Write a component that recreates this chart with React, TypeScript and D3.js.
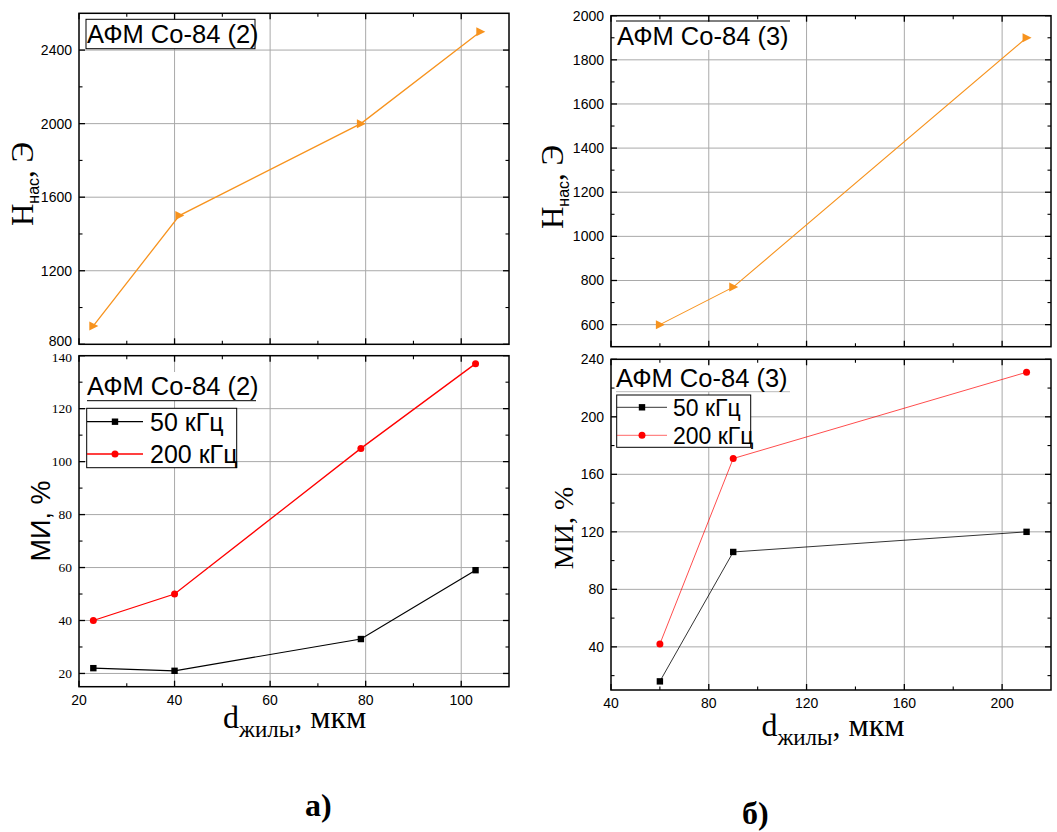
import React from "react";
import * as d3 from "d3";

const SANS = "'Liberation Sans', Arial, sans-serif";
const SERIF = "'Liberation Serif', 'Times New Roman', serif";

// ---- data: panel a) ----
const aH_x = [23, 41, 79, 104];
const aH_y = [900, 1500, 2000, 2500];
const aMI_x = [23, 40, 79, 103];
const aMI50 = [22, 21, 33, 59];
const aMI200 = [40, 50, 105, 137];

// ---- data: panel б) ----
const bX = [60, 90, 210];
const bH_y = [600, 770, 1900];
const bMI50 = [16, 106, 120];
const bMI200 = [42, 171, 231];

// ---- ticks ----
const aXMajor = [20, 40, 60, 80, 100];
const aXMinor = [30, 50, 70, 90, 110];
const aHMajor = [800, 1200, 1600, 2000, 2400];
const aHMinor = [1000, 1400, 1800, 2200, 2600];
const aMIMajor = [20, 40, 60, 80, 100, 120, 140];
const aMIMinor = [30, 50, 70, 90, 110, 130];

const bXMajor = [40, 80, 120, 160, 200];
const bXMinor = [60, 100, 140, 180, 220];
const bHMajor = [600, 800, 1000, 1200, 1400, 1600, 1800, 2000];
const bHMinor = [500, 700, 900, 1100, 1300, 1500, 1700, 1900];
const bMIMajor = [40, 80, 120, 160, 200, 240];
const bMIMinor = [20, 60, 100, 140, 180, 220];

const legendLabels = ["50 кГц", "200 кГц"];
const titleA = "АФМ Co-84 (2)";
const titleB = "АФМ Co-84 (3)";

const ORANGE = "#f7931e";
const RED = "#ff0000";
const BLACK = "#000000";
const GRID = "#a9a9a9";

type PanelProps = {
  left: number; top: number; width: number; height: number;
  xDomain: [number, number]; yDomain: [number, number];
  xMajor: number[]; xMinor: number[]; yMajor: number[]; yMinor: number[];
  xLabels: boolean; yLabelFont: string; yLabelSize: number;
  xGrid: number[]; yGrid: number[];
  yLabelShift?: (v: number) => number;
  xLabelBaseline?: number;
  render: (x: d3.ScaleLinear<number, number>, y: d3.ScaleLinear<number, number>) => React.ReactNode;
  overlay?: React.ReactNode;
};

function Panel(p: PanelProps) {
  const x = d3.scaleLinear().domain(p.xDomain).range([p.left, p.left + p.width]);
  const y = d3.scaleLinear().domain(p.yDomain).range([p.top + p.height, p.top]);
  const L = p.left, R = p.left + p.width, T = p.top, B = p.top + p.height;
  const maj = 6, min = 3.5;
  return (
    <g>
      {p.xGrid.map((v) => (
        <line key={"gx" + v} x1={x(v)} x2={x(v)} y1={T} y2={B} stroke={GRID} strokeWidth={1} />
      ))}
      {p.yGrid.map((v) => (
        <line key={"gy" + v} x1={L} x2={R} y1={y(v)} y2={y(v)} stroke={GRID} strokeWidth={1} />
      ))}
      {p.overlay}
      {p.render(x, y)}
      <rect x={L} y={T} width={p.width} height={p.height} fill="none" stroke="#000" strokeWidth={1.5} />
      {p.xMajor.map((v) => (
        <g key={"xm" + v}>
          <line x1={x(v)} x2={x(v)} y1={B} y2={B - maj} stroke="#000" strokeWidth={1.3} />
          <line x1={x(v)} x2={x(v)} y1={T} y2={T + maj} stroke="#000" strokeWidth={1.3} />
        </g>
      ))}
      {p.xMinor.filter((v) => v < p.xDomain[1]).map((v) => (
        <g key={"xn" + v}>
          <line x1={x(v)} x2={x(v)} y1={B} y2={B - min} stroke="#000" strokeWidth={1.1} />
          <line x1={x(v)} x2={x(v)} y1={T} y2={T + min} stroke="#000" strokeWidth={1.1} />
        </g>
      ))}
      {p.yMajor.map((v) => (
        <g key={"ym" + v}>
          <line x1={L} x2={L + maj} y1={y(v)} y2={y(v)} stroke="#000" strokeWidth={1.3} />
          <line x1={R} x2={R - maj} y1={y(v)} y2={y(v)} stroke="#000" strokeWidth={1.3} />
        </g>
      ))}
      {p.yMinor.filter((v) => v > p.yDomain[0] && v < p.yDomain[1]).map((v) => (
        <g key={"yn" + v}>
          <line x1={L} x2={L + min} y1={y(v)} y2={y(v)} stroke="#000" strokeWidth={1.1} />
          <line x1={R} x2={R - min} y1={y(v)} y2={y(v)} stroke="#000" strokeWidth={1.1} />
        </g>
      ))}
      {p.yMajor.map((v) => (
        <text key={"yl" + v} x={L - 7} y={y(v) + (p.yLabelShift ? p.yLabelShift(v) : 0)} dy="0.35em" textAnchor="end"
          fontFamily={p.yLabelFont} fontSize={p.yLabelSize} fill="#000">{v}</text>
      ))}
      {p.xLabels && p.xMajor.map((v) => (
        <text key={"xl" + v} x={x(v)} y={p.xLabelBaseline ?? B + 18} textAnchor="middle"
          fontFamily={SANS} fontSize={14} fill="#000">{v}</text>
      ))}
    </g>
  );
}

function Marker({ cx, cy, color, kind }: { cx: number; cy: number; color: string; kind: "tri" | "sq" | "circ" }) {
  if (kind === "tri")
    return <path d={`M${cx - 4},${cy - 4.5}L${cx + 5},${cy}L${cx - 4},${cy + 4.5}Z`} fill={color} />;
  if (kind === "sq") return <rect x={cx - 3.2} y={cy - 3.2} width={6.4} height={6.4} fill={color} />;
  return <circle cx={cx} cy={cy} r={3.5} fill={color} />;
}

function Series({ xs, ys, x, y, color, width, marker }: {
  xs: number[]; ys: number[]; x: d3.ScaleLinear<number, number>; y: d3.ScaleLinear<number, number>;
  color: string; width: number; marker: "tri" | "sq" | "circ";
}) {
  const pts = xs.map((v, i) => [x(v), y(ys[i])] as [number, number]);
  const line = d3.line()(pts) || "";
  return (
    <g>
      <path d={line} fill="none" stroke={color} strokeWidth={width} />
      {pts.map(([px, py], i) => (
        <Marker key={i} cx={px} cy={py} color={color} kind={marker} />
      ))}
    </g>
  );
}

function HLabel({ x, cy }: { x: number; cy: number }) {
  return (
    <text transform={`translate(${x},${cy}) rotate(-90)`} textAnchor="middle" fontFamily={SERIF} fontSize={31} fill="#000">
      H<tspan fontFamily={SANS} fontSize={16} dy={6}>нас</tspan><tspan dy={-6}>, Э</tspan>
    </text>
  );
}

function DLabel({ cx, y }: { cx: number; y: number }) {
  return (
    <text x={cx} y={y} textAnchor="middle" fontFamily={SERIF} fontSize={32} fill="#000">
      d<tspan fontSize={23} dy={9}>жилы</tspan><tspan dy={-9}>, мкм</tspan>
    </text>
  );
}

export default function App() {
  return (
    <svg width={1057} height={832} style={{ position: "absolute", left: 0, top: 0, background: "#fff" }}>
      <rect x={0} y={0} width={1057} height={832} fill="#fff" />

      {/* a) top */}
      <Panel left={79} top={13.3} width={430} height={331}
        xDomain={[20, 110]} yDomain={[800, 2600]}
        xMajor={aXMajor} xMinor={aXMinor} yMajor={aHMajor} yMinor={aHMinor}
        xLabels={false} yLabelFont={SANS} yLabelSize={14}
        yLabelShift={(v) => (v === 800 ? -3 : 0)}
        xGrid={[40, 60, 80, 100]} yGrid={[1200, 1600, 2000, 2400]}
        overlay={
          <g>
            <rect x={86} y={19.3} width={169} height={29.4} fill="#fff" stroke="#000" strokeWidth={1} />
            <text x={87} y={43} fontFamily={SANS} fontSize={25.5}>{titleA}</text>
          </g>
        }
        render={(x, y) => <Series xs={aH_x} ys={aH_y} x={x} y={y} color={ORANGE} width={1.3} marker="tri" />}
      />
      <HLabel x={33} cy={184} />

      {/* a) bottom */}
      <Panel left={79} top={355.7} width={430} height={331}
        xDomain={[20, 110]} yDomain={[15, 140]}
        xMajor={aXMajor} xMinor={aXMinor} yMajor={aMIMajor} yMinor={aMIMinor}
        xLabels={true} xLabelBaseline={705} yLabelFont={SERIF} yLabelSize={13.5}
        yLabelShift={(v) => (v === 140 ? 1.5 : 0)}
        xGrid={[40, 60, 80, 100]} yGrid={[20, 40, 60, 80, 100, 120]}
        overlay={
          <g>
            <rect x={86} y={372} width={170} height={29} fill="#fff" />
            <line x1={87} x2={256} y1={400.7} y2={400.7} stroke="#000" strokeWidth={1} />
            <text x={87} y={395} fontFamily={SANS} fontSize={25.5}>{titleA}</text>
            <rect x={86.7} y={408.3} width={150} height={59.4} fill="#fff" stroke="#000" strokeWidth={1} />
            <line x1={87} x2={143} y1={421.7} y2={421.7} stroke={BLACK} strokeWidth={1.3} />
            <Marker cx={115} cy={421.7} color={BLACK} kind="sq" />
            <text x={150} y={430.5} fontFamily={SANS} fontSize={25}>{legendLabels[0]}</text>
            <line x1={87} x2={143} y1={454} y2={454} stroke={RED} strokeWidth={1.5} />
            <Marker cx={115} cy={454} color={RED} kind="circ" />
            <text x={150} y={462.5} fontFamily={SANS} fontSize={25}>{legendLabels[1]}</text>
          </g>
        }
        render={(x, y) => (
          <g>
            <Series xs={aMI_x} ys={aMI50} x={x} y={y} color={BLACK} width={1.2} marker="sq" />
            <Series xs={aMI_x} ys={aMI200} x={x} y={y} color={RED} width={1.3} marker="circ" />
          </g>
        )}
      />
      <text transform="translate(50,521) rotate(-90)" textAnchor="middle" fontFamily={SANS} fontSize={27}>МИ, %</text>
      <DLabel cx={294.7} y={728} />

      {/* б) top */}
      <Panel left={611} top={15.7} width={440} height={331}
        xDomain={[40, 220]} yDomain={[500, 2000]}
        xMajor={bXMajor} xMinor={bXMinor} yMajor={bHMajor} yMinor={bHMinor}
        xLabels={false} yLabelFont={SANS} yLabelSize={14}
        xGrid={[80, 120, 160, 200]} yGrid={[600, 800, 1000, 1200, 1400, 1600, 1800]}
        overlay={
          <g>
            <rect x={616} y={21} width={174} height={29} fill="#fff" />
            <line x1={616} x2={790} y1={21} y2={21} stroke="#000" strokeWidth={1} />
            <text x={617} y={45} fontFamily={SANS} fontSize={25.5}>{titleB}</text>
          </g>
        }
        render={(x, y) => <Series xs={bX} ys={bH_y} x={x} y={y} color={ORANGE} width={1.1} marker="tri" />}
      />
      <HLabel x={563} cy={187} />

      {/* б) bottom */}
      <Panel left={611} top={359.3} width={440} height={330.7}
        xDomain={[40, 220]} yDomain={[10, 240]}
        xMajor={bXMajor} xMinor={bXMinor} yMajor={bMIMajor} yMinor={bMIMinor}
        xLabels={true} xLabelBaseline={708} yLabelFont={SANS} yLabelSize={14}
        xGrid={[80, 120, 160, 200]} yGrid={[40, 80, 120, 160, 200]}
        overlay={
          <g>
            <rect x={616} y={364} width={174} height={28} fill="#fff" />
            <line x1={616} x2={790} y1={391.7} y2={391.7} stroke="#bbb" strokeWidth={1} />
            <text x={616} y={387} fontFamily={SANS} fontSize={25.5}>{titleB}</text>
            <rect x={616.7} y={395} width={134} height={52.3} fill="#fff" stroke="#000" strokeWidth={1} />
            <line x1={617} x2={667} y1={407.3} y2={407.3} stroke={BLACK} strokeWidth={0.8} />
            <Marker cx={642} cy={407.3} color={BLACK} kind="sq" />
            <text x={673} y={415.5} fontFamily={SANS} fontSize={23}>{legendLabels[0]}</text>
            <line x1={617} x2={667} y1={435.3} y2={435.3} stroke={RED} strokeWidth={0.6} />
            <Marker cx={642} cy={435.3} color={RED} kind="circ" />
            <text x={673} y={443.5} fontFamily={SANS} fontSize={23}>{legendLabels[1]}</text>
          </g>
        }
        render={(x, y) => (
          <g>
            <Series xs={bX} ys={bMI50} x={x} y={y} color={BLACK} width={0.8} marker="sq" />
            <Series xs={bX} ys={bMI200} x={x} y={y} color={RED} width={0.7} marker="circ" />
          </g>
        )}
      />
      <text transform="translate(573,528) rotate(-90)" textAnchor="middle" fontFamily={SERIF} fontSize={28}>МИ, %</text>
      <DLabel cx={833} y={736} />

      <text x={305} y={816} fontFamily={SERIF} fontWeight="bold" fontSize={32}>а)</text>
      <text x={742} y={824} fontFamily={SERIF} fontWeight="bold" fontSize={32}>б)</text>
    </svg>
  );
}
